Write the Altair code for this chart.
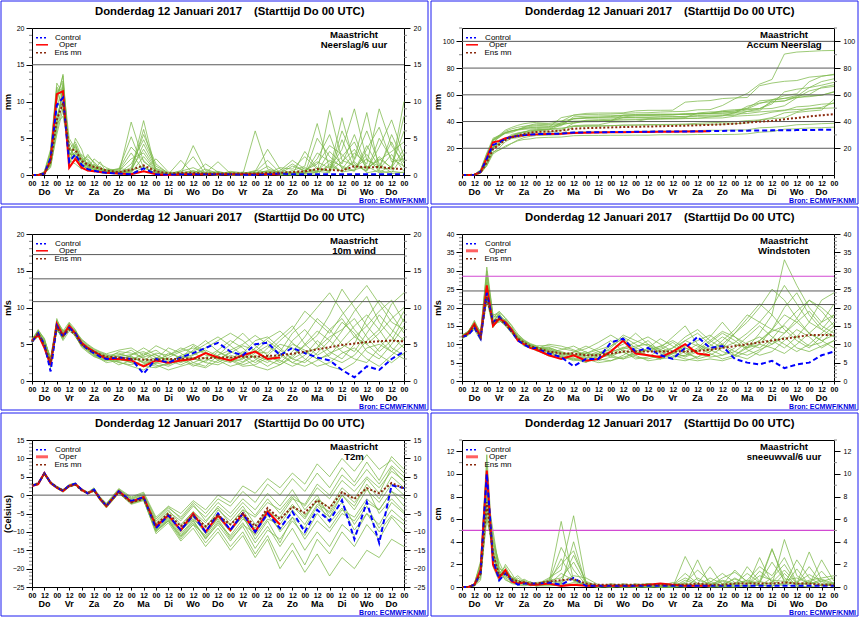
import altair as alt
import pandas as pd

HOURS = [0, 6, 12, 18, 24, 30, 36, 42, 48, 54, 60, 66, 72, 84, 96, 108, 120, 132, 144, 156,
         168, 180, 192, 204, 216, 228, 240, 252, 264, 276, 288, 300, 312, 324, 336, 348, 360]
DAYS = ["Do", "Vr", "Za", "Zo", "Ma", "Di", "Wo", "Do", "Vr", "Za", "Zo", "Ma", "Di", "Wo", "Do"]
DAY_HOURS = [12, 36, 60, 84, 108, 132, 156, 180, 204, 228, 252, 276, 300, 324, 348]
X_TICKS = [0, 12, 24, 36, 48, 60, 72, 84, 96, 108, 120, 132, 144, 156, 168, 180, 192, 204, 216,
           228, 240, 252, 264, 276, 288, 300, 312, 324, 336, 348, 360]

TITLE_A = "Donderdag 12 Januari 2017"
TITLE_B = "(Starttijd Do 00 UTC)"
LOCATION = "Maastricht"
SOURCE = "Bron: ECMWF/KNMI"

# ---------------- Neerslag / 6 uur (mm) ----------------
PR_CONTROL = [0, 0, 0.2, 2.3, 9.5, 10.5, 1.8, 2.8, 1.4, 0.8, 0.6, 0.4, 0.3, 0.2, 0.1, 0.9, 0.1, 0.05, 0.1,
              0.1, 0.1, 0.1, 0.1, 0.05, 0.05, 0.1, 0.2, 0.1, 0.1, 0.1, 0.1, 0.1, 0.1, 0.1, 0.1, 0.1, 0.1]
PR_OPER = [0, 0, 0.2, 2.0, 11.0, 11.4, 1.0, 2.2, 1.0, 0.6, 0.5, 0.4, 0.3, 0.2, 0.1, 0.5, 0.1, 0.0,
           0.1, 0.1, 0.1, 0.1, 0.1, 0.1, 0.1, 0.1, 0.1]
PR_MEAN = [0, 0, 0.2, 1.8, 7.5, 9.8, 3.5, 3.4, 1.9, 1.4, 1.1, 0.9, 0.6, 0.4, 0.7, 1.3, 0.5, 0.2, 0.3,
           0.3, 0.2, 0.2, 0.2, 0.2, 0.2, 0.3, 0.3, 0.4, 0.5, 0.8, 0.7, 0.6, 1.2, 1.0, 1.1, 0.9, 0.8]
PR_ENS = [
    [0, 0, 0.3, 2.8, 10.5, 13.5, 2.5, 4.0, 2.2, 1.5, 1.0, 0.8, 0.5, 0.3, 0.6, 7.4, 0.4, 0.1, 0.2, 0.3, 0.1, 0.0, 0.2, 0.1, 0.3, 0.5, 0.2, 0.1, 0.6, 1.8, 0.9, 3.5, 9.0, 2.0, 1.2, 4.5, 1.0],
    [0, 0, 0.1, 1.5, 6.5, 12.0, 3.8, 2.5, 1.5, 2.8, 1.6, 0.6, 0.4, 0.8, 5.2, 1.0, 0.3, 0.0, 0.1, 4.0, 0.6, 0.2, 0.1, 0.0, 0.2, 0.1, 0.0, 0.3, 0.2, 5.0, 2.5, 1.0, 0.5, 3.5, 6.5, 1.8, 2.2],
    [0, 0, 0.4, 3.2, 11.8, 8.5, 4.5, 3.2, 1.2, 0.9, 2.2, 1.5, 1.0, 0.2, 1.5, 4.8, 1.2, 0.3, 0.0, 0.1, 1.5, 0.4, 0.0, 0.1, 6.0, 0.8, 0.4, 1.5, 0.5, 0.3, 8.8, 2.0, 1.3, 0.6, 2.5, 0.9, 10.0],
    [0, 0, 0.2, 2.0, 8.0, 10.5, 1.2, 5.0, 3.5, 1.0, 0.5, 1.8, 0.3, 0.1, 0.3, 2.5, 0.5, 0.1, 2.0, 0.2, 0.3, 1.8, 0.2, 0.4, 0.1, 0.0, 0.1, 0.1, 3.2, 1.0, 0.4, 6.0, 2.2, 8.5, 0.8, 2.8, 0.5],
    [0, 0, 0.1, 1.2, 5.5, 9.0, 3.0, 2.0, 2.8, 2.0, 1.0, 0.4, 0.8, 0.4, 0.2, 1.0, 0.2, 0.0, 0.1, 0.0, 0.1, 0.0, 0.3, 0.0, 0.0, 0.2, 0.0, 0.0, 0.1, 0.4, 1.2, 0.5, 1.8, 0.3, 0.6, 0.2, 0.4],
    [0, 0, 0.5, 3.5, 12.5, 11.0, 2.0, 1.5, 0.8, 1.8, 0.6, 0.3, 0.2, 0.5, 3.0, 0.6, 2.2, 0.4, 0.3, 0.1, 0.0, 0.3, 0.1, 0.2, 0.5, 3.5, 0.8, 0.2, 0.4, 2.2, 5.5, 0.8, 3.0, 1.5, 9.0, 4.0, 1.6],
    [0, 0, 0.2, 2.5, 9.0, 12.5, 5.0, 3.5, 1.8, 1.2, 0.8, 0.5, 0.6, 0.3, 0.8, 3.5, 0.8, 0.2, 0.5, 1.0, 0.2, 0.1, 0.0, 0.1, 0.3, 0.1, 0.6, 2.0, 0.8, 0.5, 0.3, 4.8, 0.9, 2.8, 0.4, 1.2, 6.0],
    [0, 0, 0.1, 1.8, 7.0, 8.0, 3.5, 4.5, 2.5, 0.5, 1.3, 1.0, 0.5, 0.6, 0.2, 0.5, 0.3, 0.0, 0.0, 0.3, 0.0, 0.2, 0.0, 0.0, 0.1, 0.4, 0.2, 0.0, 0.2, 0.1, 1.5, 0.4, 0.7, 1.2, 0.3, 0.5, 0.3],
    [0, 0, 0.3, 2.2, 10.0, 13.7, 2.8, 2.8, 1.0, 1.4, 0.4, 0.7, 0.2, 0.2, 7.2, 1.8, 0.6, 0.1, 0.2, 0.5, 0.4, 0.1, 0.5, 0.3, 0.2, 1.2, 0.1, 0.6, 1.2, 7.0, 0.8, 2.5, 4.5, 0.7, 3.8, 7.5, 2.5],
    [0, 0, 0.2, 1.0, 6.0, 10.0, 1.5, 3.0, 2.0, 2.5, 1.8, 0.9, 0.7, 0.2, 0.4, 6.2, 0.4, 0.1, 0.1, 0.2, 0.2, 0.0, 0.1, 0.1, 0.1, 0.0, 0.3, 0.1, 0.3, 0.6, 2.0, 1.2, 0.6, 4.0, 1.0, 0.8, 8.0],
    [0, 0, 0.2, 2.6, 11.0, 12.8, 3.2, 3.8, 2.0, 1.6, 1.2, 0.6, 0.4, 0.5, 2.2, 3.0, 0.6, 0.2, 0.1, 0.2, 0.3, 0.1, 0.1, 0.2, 0.4, 2.0, 0.3, 0.2, 1.0, 0.4, 3.2, 1.5, 5.5, 1.0, 2.0, 3.2, 4.5],
    [0, 0, 0.3, 1.6, 7.5, 11.5, 4.0, 2.2, 1.6, 1.1, 0.7, 1.2, 0.3, 0.3, 1.0, 5.5, 1.5, 0.2, 0.4, 0.2, 0.2, 0.5, 0.1, 0.0, 0.3, 0.2, 1.0, 0.8, 2.5, 0.8, 0.6, 7.8, 1.5, 0.5, 5.0, 2.2, 1.2],
    [0, 0, 0.1, 2.4, 9.5, 9.5, 2.2, 3.2, 2.6, 1.3, 0.9, 0.5, 0.8, 0.7, 3.8, 2.0, 0.3, 0.1, 0.6, 2.5, 0.1, 0.0, 0.4, 0.1, 0.0, 0.3, 0.1, 0.4, 0.2, 3.0, 1.8, 0.4, 2.0, 6.0, 1.5, 0.3, 2.8],
    [0, 0, 0.4, 3.0, 12.0, 10.8, 3.0, 2.6, 1.4, 0.8, 1.5, 0.8, 0.6, 0.4, 0.5, 4.2, 0.9, 0.3, 0.2, 0.1, 0.8, 0.2, 0.3, 0.2, 0.6, 0.4, 0.2, 1.2, 0.6, 1.5, 4.0, 2.8, 1.0, 2.2, 0.7, 5.5, 1.8],
    [0, 0, 0.2, 1.4, 6.8, 12.2, 2.6, 4.2, 1.7, 2.2, 1.1, 0.7, 0.5, 0.9, 0.6, 1.2, 0.2, 0.0, 0.3, 0.6, 0.0, 0.4, 0.0, 0.1, 0.2, 0.6, 0.4, 0.3, 0.4, 0.9, 0.5, 1.8, 3.5, 0.9, 2.2, 1.0, 3.5],
]

# ---------------- Accumulated precipitation (mm) ----------------
AC_CONTROL = [0, 0, 0.2, 2.5, 12, 22.5, 24.3, 27.1, 28.5, 29.3, 29.9, 30.3, 30.6, 30.8, 30.9, 31.8, 31.9, 32.0, 32.1,
              32.2, 32.3, 32.4, 32.5, 32.5, 32.6, 32.7, 32.9, 33.0, 33.1, 33.2, 33.3, 33.4, 33.5, 33.6, 33.7, 33.8, 33.9]
AC_OPER = [0, 0, 0.2, 2.2, 13, 24.5, 25.5, 27.5, 28.5, 29.2, 29.7, 30.1, 30.4, 30.7, 30.9, 31.5, 31.7, 31.8,
           31.9, 32.0, 32.1, 32.2, 32.3, 32.4, 32.5, 32.6, 32.7]
AC_MEAN = [0, 0, 0.2, 2.0, 9.5, 19.3, 22.8, 26.2, 28.1, 29.5, 30.7, 31.6, 32.2, 32.6, 33.3, 34.6, 35.1, 35.3, 35.6,
           35.9, 36.1, 36.3, 36.5, 36.7, 36.9, 37.2, 37.5, 37.9, 38.4, 39.2, 39.9, 40.5, 41.7, 42.7, 43.8, 44.7, 45.5]
AC_ENS = [
    [0, 0, 0.3, 3.0, 13.0, 26.0, 28.0, 31.5, 33.0, 34.0, 35.0, 35.5, 36.0, 36.3, 36.8, 43.5, 44.0, 44.2, 44.4, 44.7, 44.8, 44.9, 45.1, 45.2, 45.5, 46.0, 46.2, 46.4, 47.0, 48.8, 49.7, 53.2, 62.2, 64.2, 65.4, 69.9, 72.0],
    [0, 0, 0.1, 1.6, 8.1, 20.1, 23.9, 26.4, 27.9, 30.7, 32.3, 32.9, 33.3, 34.1, 39.3, 40.3, 40.6, 40.6, 40.7, 44.7, 45.3, 45.5, 45.6, 45.6, 45.8, 45.9, 45.9, 46.2, 46.4, 51.4, 53.9, 54.9, 55.4, 58.9, 65.4, 67.2, 69.4],
    [0, 0, 0.4, 3.6, 15.4, 23.9, 28.4, 31.6, 32.8, 33.7, 35.9, 37.4, 38.4, 38.6, 40.1, 44.9, 46.1, 46.4, 46.4, 46.5, 48.0, 48.4, 48.4, 48.5, 54.5, 55.3, 55.7, 57.2, 57.7, 58.0, 66.8, 68.8, 70.1, 70.7, 73.2, 74.1, 75.0],
    [0, 0, 0.2, 2.2, 10.2, 20.7, 21.9, 26.9, 30.4, 31.4, 31.9, 33.7, 34.0, 34.1, 34.4, 36.9, 37.4, 37.5, 39.5, 39.7, 40.0, 41.8, 42.0, 42.4, 42.5, 42.5, 42.6, 42.7, 44.0, 44.5, 45.0, 47.0, 48.2, 51.0, 51.6, 53.0, 53.5],
    [0, 0, 0.1, 1.3, 6.8, 15.8, 18.8, 20.8, 23.6, 25.6, 26.6, 27.0, 27.8, 28.2, 28.4, 29.4, 29.6, 29.6, 29.7, 29.7, 29.8, 29.8, 30.1, 30.1, 30.1, 30.3, 30.3, 30.3, 30.4, 30.8, 32.0, 32.5, 34.3, 34.6, 35.2, 35.4, 35.8],
    [0, 0, 0.5, 4.0, 16.5, 27.5, 29.5, 31.0, 31.8, 33.6, 34.2, 34.5, 34.7, 35.2, 38.2, 38.8, 41.0, 41.4, 41.7, 41.8, 41.8, 42.1, 42.2, 42.4, 42.9, 46.4, 47.2, 47.4, 47.8, 50.0, 55.5, 56.3, 59.3, 60.8, 69.8, 73.8, 75.4],
    [0, 0, 0.2, 2.7, 11.7, 24.2, 29.2, 32.7, 34.5, 35.7, 36.5, 37.0, 37.6, 37.9, 38.7, 42.2, 43.0, 43.2, 43.7, 44.7, 44.9, 45.0, 45.0, 45.1, 45.4, 45.5, 46.1, 48.1, 48.9, 49.4, 49.7, 54.5, 55.4, 58.2, 58.6, 59.8, 62.0],
    [0, 0, 0.1, 1.9, 8.9, 16.9, 20.4, 24.9, 27.4, 27.9, 29.2, 30.2, 30.7, 31.3, 31.5, 32.0, 32.3, 32.3, 32.3, 32.6, 32.6, 32.8, 32.8, 32.8, 32.9, 33.3, 33.5, 33.5, 33.7, 33.8, 35.3, 35.7, 36.4, 37.6, 37.9, 38.4, 38.7],
    [0, 0, 0.3, 2.5, 12.5, 26.2, 29.0, 31.8, 32.8, 34.2, 34.6, 35.3, 35.5, 35.7, 42.9, 44.7, 45.3, 45.4, 45.6, 46.1, 46.5, 46.6, 47.1, 47.4, 47.6, 48.8, 48.9, 52.0, 57.0, 61.0, 68.0, 71.5, 90.5, 92.0, 92.5, 93.0, 93.2],
    [0, 0, 0.2, 1.2, 7.2, 17.2, 18.7, 21.7, 23.7, 26.2, 28.0, 28.9, 29.6, 29.8, 30.2, 36.4, 36.8, 36.9, 37.0, 37.2, 37.4, 37.4, 37.5, 37.6, 37.7, 37.7, 38.0, 38.1, 38.4, 39.0, 41.0, 42.2, 42.8, 46.8, 47.8, 48.6, 56.6],
    [0, 0, 0.2, 2.8, 13.8, 26.6, 29.8, 33.6, 35.6, 37.2, 38.4, 39.0, 39.4, 39.9, 40.5, 42.0, 42.4, 42.6, 42.7, 42.9, 43.2, 43.3, 43.4, 43.6, 43.9, 44.5, 44.8, 45.0, 45.6, 46.0, 47.2, 47.9, 48.6, 49.0, 49.5, 49.8, 50.2],
    [0, 0, 0.3, 1.9, 9.4, 20.9, 24.9, 27.1, 28.7, 29.8, 30.5, 31.7, 32.0, 32.3, 33.3, 38.8, 40.3, 40.5, 40.9, 41.1, 41.3, 41.8, 41.9, 41.9, 42.2, 42.4, 43.4, 44.2, 46.7, 47.5, 48.1, 55.9, 57.4, 57.9, 62.9, 65.1, 66.3],
    [0, 0, 0.1, 2.5, 12.0, 21.5, 23.7, 26.9, 29.5, 30.8, 31.7, 32.2, 33.0, 33.7, 37.5, 39.5, 39.8, 39.9, 40.5, 43.0, 43.1, 43.1, 43.5, 43.6, 43.6, 43.9, 44.0, 44.4, 44.6, 47.6, 49.4, 49.8, 51.8, 57.8, 59.3, 59.6, 62.4],
    [0, 0, 0.4, 3.4, 15.4, 26.2, 29.2, 31.8, 33.2, 34.0, 35.5, 36.3, 36.9, 37.3, 37.8, 42.0, 42.9, 43.2, 43.4, 43.5, 44.3, 44.5, 44.8, 45.0, 45.6, 46.0, 46.2, 47.4, 48.0, 49.5, 53.5, 56.3, 57.3, 59.5, 60.2, 65.7, 67.5],
    [0, 0, 0.2, 1.6, 8.4, 20.6, 23.2, 27.4, 29.1, 31.3, 32.4, 33.1, 33.6, 34.5, 35.1, 36.3, 36.5, 36.5, 36.8, 37.4, 37.4, 37.8, 37.8, 37.9, 38.1, 38.7, 39.1, 39.4, 39.8, 40.7, 41.2, 43.0, 46.5, 47.4, 49.6, 50.6, 54.1],
]

# ---------------- 10m wind (m/s) ----------------
WI_CONTROL = [5.3, 6.5, 5.0, 1.3, 7.5, 6.0, 7.2, 6.5, 5.0, 4.3, 3.8, 3.3, 3.0, 3.2, 3.0, 1.0, 3.0, 2.5, 3.2,
              3.8, 4.5, 5.2, 4.0, 3.5, 5.0, 5.2, 3.5, 4.5, 3.8, 3.2, 2.8, 1.5, 0.5, 2.0, 1.5, 3.0, 4.0]
WI_OPER = [5.5, 6.3, 4.5, 2.2, 7.8, 6.2, 7.5, 6.5, 5.2, 4.5, 4.0, 3.5, 3.0, 3.0, 2.8, 2.0, 2.8, 2.5, 2.8,
           3.0, 3.8, 3.2, 2.8, 3.5, 4.0, 3.0, 3.2]
WI_MEAN = [5.4, 6.5, 4.8, 2.5, 7.3, 6.2, 7.0, 6.3, 5.0, 4.4, 4.0, 3.6, 3.3, 3.2, 3.0, 2.9, 2.9, 3.0, 3.0,
           3.1, 3.1, 3.2, 3.2, 3.3, 3.3, 3.4, 3.5, 3.7, 4.0, 4.3, 4.6, 4.9, 5.1, 5.3, 5.4, 5.5, 5.4]
WI_ENS = [
    [5.6, 6.8, 5.2, 2.5, 8.0, 6.5, 7.8, 6.8, 5.5, 4.8, 4.2, 3.8, 3.5, 3.0, 2.5, 2.2, 3.0, 4.5, 3.8, 2.5, 2.0, 3.5, 5.0, 6.5, 4.8, 3.5, 2.5, 4.0, 6.0, 8.5, 7.0, 5.0, 4.0, 6.5, 9.0, 7.0, 5.5],
    [5.2, 6.2, 4.5, 1.8, 7.0, 5.8, 7.2, 6.0, 4.8, 4.2, 3.6, 3.2, 3.0, 4.0, 3.8, 3.2, 2.5, 2.0, 2.8, 4.2, 5.5, 4.0, 3.0, 2.2, 2.8, 4.5, 6.0, 7.5, 5.0, 3.5, 4.5, 6.8, 9.5, 11.5, 8.0, 6.0, 4.5],
    [5.4, 6.6, 5.5, 3.0, 7.5, 6.8, 8.0, 7.0, 5.2, 4.0, 3.4, 3.0, 2.5, 2.8, 3.5, 4.5, 3.5, 2.8, 2.2, 3.0, 3.8, 3.0, 2.5, 3.8, 5.5, 6.0, 4.5, 3.0, 2.5, 3.8, 5.5, 8.0, 6.5, 4.0, 3.0, 5.0, 7.5],
    [5.5, 6.4, 4.8, 2.2, 8.5, 6.2, 7.5, 6.5, 5.0, 4.5, 4.0, 3.6, 3.2, 2.5, 2.2, 2.8, 3.8, 3.5, 4.2, 5.0, 4.0, 2.8, 2.0, 2.5, 3.5, 2.8, 2.2, 3.5, 4.8, 6.2, 9.0, 12.5, 10.0, 7.5, 5.5, 4.0, 3.0],
    [5.3, 6.9, 5.8, 2.8, 7.2, 5.5, 6.8, 6.2, 4.6, 3.9, 3.3, 3.0, 2.7, 3.5, 4.2, 3.0, 2.2, 1.5, 2.0, 2.5, 3.2, 4.2, 5.5, 4.5, 3.0, 2.0, 3.0, 5.5, 7.0, 5.0, 3.2, 2.5, 3.5, 5.5, 7.0, 10.5, 12.0],
    [5.7, 6.3, 5.0, 2.0, 8.2, 6.9, 7.0, 6.6, 5.4, 4.6, 3.8, 3.4, 3.3, 2.7, 3.0, 3.5, 4.8, 4.0, 3.0, 2.0, 2.8, 3.5, 4.2, 5.0, 6.2, 5.0, 3.8, 2.5, 3.5, 5.5, 4.0, 3.0, 5.0, 8.5, 11.0, 9.0, 6.5],
    [5.1, 6.7, 4.6, 2.6, 6.8, 6.0, 7.6, 6.4, 4.9, 4.3, 3.5, 3.1, 2.8, 3.0, 2.5, 2.0, 1.8, 2.5, 3.5, 4.0, 5.0, 6.0, 4.8, 3.5, 2.5, 3.5, 5.0, 4.5, 3.0, 2.0, 2.5, 3.8, 4.5, 3.0, 2.0, 3.5, 5.0],
    [5.5, 6.5, 5.4, 3.2, 7.8, 6.4, 7.4, 6.9, 5.3, 4.7, 4.1, 3.7, 3.4, 3.8, 3.2, 2.5, 3.2, 3.0, 2.5, 3.2, 2.5, 2.2, 3.0, 4.0, 3.2, 2.5, 4.0, 6.5, 8.0, 10.0, 12.0, 9.5, 7.0, 5.0, 6.5, 8.5, 10.0],
    [5.4, 6.0, 4.9, 2.4, 7.4, 5.9, 7.9, 6.3, 5.1, 4.4, 3.7, 3.3, 3.1, 2.2, 2.8, 3.8, 2.8, 3.5, 4.5, 3.8, 3.0, 2.5, 3.5, 3.0, 4.0, 5.5, 4.2, 3.0, 4.0, 3.0, 2.0, 1.5, 2.5, 4.5, 5.0, 4.0, 6.0],
    [5.6, 7.0, 5.6, 2.9, 8.0, 6.6, 7.1, 6.7, 5.6, 4.9, 4.3, 3.9, 3.6, 3.3, 3.6, 4.0, 3.2, 2.2, 3.0, 4.8, 3.5, 3.2, 2.8, 2.0, 2.2, 3.2, 2.8, 2.0, 2.8, 4.5, 6.0, 7.0, 8.5, 6.0, 4.0, 5.5, 8.5],
    [5.4, 6.6, 5.1, 2.7, 7.7, 6.3, 7.3, 6.6, 5.2, 4.5, 3.9, 3.5, 3.2, 3.6, 3.3, 2.6, 2.4, 3.2, 4.0, 4.5, 3.8, 3.0, 3.8, 4.8, 4.2, 3.0, 3.5, 5.0, 4.2, 3.0, 3.5, 5.5, 7.5, 9.0, 7.0, 4.5, 3.5],
    [5.2, 6.4, 4.7, 2.1, 7.1, 5.7, 7.7, 6.1, 4.7, 4.1, 3.6, 3.2, 2.9, 2.6, 2.0, 1.5, 2.5, 3.8, 3.2, 2.2, 1.8, 2.8, 4.0, 3.2, 2.0, 1.5, 2.2, 3.2, 5.0, 6.8, 5.5, 4.0, 3.0, 2.5, 4.5, 6.5, 9.5],
    [5.8, 6.8, 5.7, 3.1, 8.3, 6.7, 7.2, 6.8, 5.7, 5.0, 4.4, 4.0, 3.7, 4.2, 4.5, 3.5, 4.2, 3.0, 2.6, 3.5, 4.5, 5.5, 6.5, 5.5, 4.0, 3.8, 5.5, 7.0, 9.5, 8.0, 6.5, 9.0, 11.0, 13.0, 10.5, 8.0, 7.0],
    [5.3, 6.1, 5.3, 2.3, 7.6, 6.1, 7.0, 6.4, 5.0, 4.3, 3.8, 3.4, 3.1, 3.1, 2.7, 3.3, 3.6, 2.6, 3.4, 3.0, 2.6, 4.0, 3.2, 2.6, 3.8, 4.8, 3.5, 2.5, 2.0, 2.8, 3.8, 4.5, 6.0, 5.0, 3.5, 2.5, 3.8],
    [5.5, 6.7, 5.3, 2.6, 7.9, 6.5, 7.6, 6.6, 5.3, 4.6, 4.0, 3.6, 3.3, 2.9, 3.4, 2.4, 2.0, 2.3, 3.0, 3.6, 4.2, 3.4, 2.6, 3.0, 4.5, 5.8, 6.8, 5.2, 3.8, 4.5, 7.0, 8.5, 6.0, 7.5, 9.5, 11.0, 8.0],
]

# ---------------- Windstoten (m/s) ----------------
GU_CONTROL = [12, 12.5, 14.5, 11.5, 24, 16, 17.5, 15.5, 13.5, 11, 10, 9, 9, 7.5, 6.5, 4, 6, 6, 10.5,
              11.5, 8, 9, 7, 6, 9, 12, 9, 9.5, 6, 5, 4.5, 5.5, 3.5, 4.5, 5, 7, 8]
GU_OPER = [12, 13, 15.5, 12, 26, 15, 17, 16, 14, 11, 10, 9, 8.5, 7, 6, 7, 5.5, 6, 8, 11, 7.5, 7, 6.5,
           8, 10, 7.5, 7]
GU_MEAN = [12, 13, 15, 12, 23, 16, 17, 15.5, 13.5, 11.5, 10.5, 9.5, 9, 8, 7.5, 7.5, 7, 7, 7.5, 8, 8,
           8, 8, 8, 8, 8.2, 8.5, 9, 9.5, 10, 10.5, 11, 11.5, 12, 12.5, 12.5, 12.5]
GU_ENS = [
    [12, 13.5, 16, 12.5, 28, 17, 19, 17, 15, 12, 11, 10, 9.5, 8, 6.5, 6, 5, 7, 9, 12, 10, 8, 9, 12, 15, 10, 8, 11, 14, 18, 16, 14, 13, 17, 22, 19, 15],
    [11.5, 12.5, 14.5, 11.5, 24, 15, 16.5, 15, 13, 11, 9.5, 9, 8.5, 9, 8, 7, 8, 6, 5.5, 7, 9, 11, 8, 6.5, 7, 9, 12, 16, 12, 9, 10, 14, 20, 24, 18, 14, 12],
    [12.5, 13, 15.5, 13, 31, 18, 18, 16.5, 14.5, 12, 10.5, 9.5, 9, 7, 6, 8, 9.5, 8, 6.5, 6, 8, 7, 6, 8, 11, 13, 10, 8, 7, 9, 13, 18, 33, 26, 20, 16, 21],
    [12, 12.8, 15, 12, 22, 14.5, 17, 16, 13.5, 11.5, 10, 9, 8.8, 10, 9.5, 8.5, 7, 5.5, 6.5, 8.5, 7, 5.5, 6, 7.5, 9, 7.5, 6.5, 7, 9, 12, 15, 12, 10, 8, 10, 13, 16],
    [11.8, 13.2, 16.5, 12.8, 26, 16, 18.5, 15.5, 14, 11, 9.8, 9.2, 8.2, 7.5, 6.8, 5.5, 6, 7.5, 8.5, 10, 13, 10, 7.5, 6, 5.5, 6.5, 9, 10, 7, 6, 8, 11, 9, 12, 16, 22, 24],
    [12.2, 12.6, 14, 11, 25, 15.5, 16, 16.8, 14.2, 12.5, 11, 10, 9.2, 8.5, 7, 6.5, 7.5, 9, 11, 8, 6, 6.5, 8.5, 10.5, 8, 6, 7, 9, 13, 16, 20, 25, 22, 17, 13, 11, 9],
    [12.4, 13.6, 15.8, 13.5, 29, 17.5, 17.5, 15.2, 13.2, 11.2, 10.2, 9.5, 8.6, 7.8, 8.5, 9.5, 7.8, 6.5, 7, 9, 10.5, 12, 10, 8, 6.5, 8, 10.5, 13, 11, 8.5, 7, 8, 11, 14, 12, 9, 11],
    [11.6, 12.4, 14.8, 12.2, 23, 15, 17.2, 16.2, 13.8, 11.8, 10.4, 9.4, 8.4, 6.8, 6.2, 7, 6, 5, 5.5, 6.5, 7.5, 8.5, 9.5, 7, 6, 5.5, 6, 5.5, 6.5, 8, 10, 9, 7.5, 10, 13, 16, 18],
    [12.1, 13.1, 15.2, 12.6, 27, 16.5, 18, 15.8, 14.4, 12.2, 10.8, 9.8, 9.4, 8.2, 7.2, 7.8, 8.8, 10.5, 12.5, 10.5, 8.5, 7, 6.5, 7.5, 9.5, 11, 12.5, 10, 8, 10.5, 12, 10, 13, 16, 19, 15, 13],
    [11.9, 12.9, 15.6, 12.4, 24.5, 15.8, 16.8, 16.4, 13.6, 11.4, 10.6, 9.6, 9, 9.2, 7.8, 6.8, 6.4, 6.2, 7.2, 7.8, 6.5, 6, 7, 9, 11, 9.5, 7.5, 6, 7, 9.5, 11, 13.5, 15, 12, 9.5, 10.5, 14],
    [12.3, 13.3, 15.4, 12.7, 26.5, 16.2, 17.8, 16, 14, 11.8, 10.4, 9.6, 9, 8.6, 7.6, 7.2, 7.5, 8.5, 9.5, 11.5, 9, 8, 9.5, 11, 9, 8, 9.5, 12, 10, 9, 11, 14, 18, 16, 13, 11, 12.5],
    [11.7, 12.7, 14.6, 11.8, 23.5, 15.2, 16.6, 15.6, 13.4, 11.6, 10.3, 9.3, 8.7, 8, 6.4, 5.8, 6.8, 8, 7, 6, 7, 9, 11.5, 9.5, 7.5, 6.5, 8, 10, 13, 17, 21, 18, 14, 11, 9, 12, 15],
    [12.6, 13.4, 16.2, 13.2, 30, 17.8, 18.8, 17.2, 15.2, 12.8, 11.2, 10.2, 9.6, 9.6, 8.8, 8.2, 7, 7.5, 9.5, 12.5, 11, 9.5, 8, 9, 12, 14, 11, 9, 10.5, 13, 16, 20, 26, 21, 16, 14, 18],
    [11.8, 12.6, 14.4, 11.6, 22.5, 14.8, 16.4, 15.4, 13.2, 11.2, 9.9, 9.1, 8.6, 7.2, 6.6, 6.2, 5.2, 6, 7.8, 9.2, 8, 7, 6, 6.5, 8, 10, 8.5, 7, 8, 7, 8.5, 10, 12, 9, 8, 9.5, 11],
    [12.2, 13, 15.4, 12.3, 25.5, 15.6, 17.4, 16.2, 13.9, 11.6, 10.7, 9.7, 9.1, 8.9, 7.4, 6.9, 6.9, 7.2, 8, 8.8, 9.5, 10, 8.5, 7.5, 6.8, 8.5, 11, 13.5, 12, 10, 9, 11.5, 15.5, 19, 22, 20, 17],
]

# ---------------- T2m (Celsius) ----------------
T_CONTROL = [2.6, 3.1, 6.0, 3.4, 2.1, 1.2, 2.6, 3.1, 1.5, 0.5, 1.5, -1.0, -2.9, 1.0, -1.6, -0.6, -9.0, -5.5,
             -9.5, -5.5, -10, -5, -9.5, -5, -10, -5, -9, -4.5, -10, -4, -7, -1.4, -12, -1.9, -13, 2.7, 1.9]
T_OPER = [2.5, 3.0, 6.0, 3.3, 2.0, 1.1, 2.5, 3.0, 1.5, 0.5, 1.4, -1.1, -3.0, 1.1, -1.8, -0.5, -8.5, -5.5,
          -9.5, -5.0, -10.0, -5.5, -9.5, -5.0, -10.0, -4.5, -8.0]
T_MEAN = [2.7, 3.2, 5.8, 3.5, 2.2, 1.3, 2.4, 2.8, 1.3, 0.6, 1.2, -1.0, -2.8, 0.8, -2.0, -1.0, -8.0, -5.0,
          -8.5, -5.5, -8.5, -5.5, -8.0, -5.0, -8.5, -3.5, -6.5, -3.2, -4.8, -1.4, -3.5, 0.8, -1.0, 1.9, 0.5, 3.3, 1.8]
T_ENS = [
    [2.6, 3.2, 6.2, 3.5, 2.3, 1.3, 2.8, 3.2, 1.6, 0.6, 1.8, -0.8, -2.5, 1.5, -1.0, 0.2, -7.0, -3.5, -6.0, -2.0, -5.0, -1.0, -3.0, 1.0, -2.0, 3.0, 0.0, 4.5, 1.0, 6.0, 2.0, 7.5, 3.5, 9.0, 4.0, 10.5, 7.0],
    [2.4, 2.8, 5.6, 3.0, 1.8, 0.8, 2.2, 2.7, 1.2, 0.3, 1.0, -1.5, -3.5, 0.5, -2.5, -1.5, -10, -7, -12, -8, -13, -9, -14, -10, -16, -11, -18, -13, -19, -12, -16, -10, -14, -8, -12, -6, -10],
    [2.7, 3.1, 6.0, 3.4, 2.1, 1.2, 2.6, 3.1, 1.5, 0.5, 1.5, -1.0, -2.8, 1.0, -1.6, -0.3, -8.5, -5.5, -9.5, -6.5, -10, -6, -8, -4, -6, -2, -4, 0, -3, 2, -1, 4, 1, 5, 2, 6.5, 4],
    [2.5, 3.0, 5.9, 3.2, 2.0, 1.0, 2.4, 2.9, 1.4, 0.4, 1.3, -1.2, -3.2, 0.8, -2.0, -1.0, -9.5, -6.5, -11, -7, -12, -7.5, -11, -6.5, -9, -4, -7, -2.5, -6, -1.5, -5, 0, -4, 1.5, -2, 3, 0],
    [2.8, 3.3, 6.3, 3.6, 2.4, 1.5, 2.9, 3.3, 1.8, 0.8, 2.0, -0.5, -2.2, 1.8, -0.5, 0.8, -6.0, -3.0, -5.0, -1.5, -4.0, 0.0, -2.0, 2.5, 0.5, 4.5, 2.0, 6.0, 3.0, 8.5, 5.0, 10.0, 6.5, 11.0, 7.0, 9.5, 6.0],
    [2.6, 2.9, 5.7, 3.1, 1.9, 0.9, 2.3, 2.8, 1.3, 0.4, 1.2, -1.4, -3.3, 0.6, -2.3, -1.2, -10.5, -7.5, -12.5, -9, -14, -10, -15, -11, -17, -12, -20, -15, -21, -16, -22, -17, -20, -15, -17, -12, -14],
    [2.5, 3.1, 6.1, 3.3, 2.2, 1.1, 2.5, 3.0, 1.4, 0.5, 1.4, -1.1, -3.0, 1.2, -1.5, -0.5, -8.0, -4.5, -7.0, -3.0, -6.0, -2.0, -5.0, -1.0, -4.0, 0.5, -3.0, 1.5, -4.0, 0.0, -6.0, -2.0, -8.0, -3.0, -9.0, -4.0, -7.0],
    [2.7, 3.0, 5.8, 3.4, 2.0, 1.2, 2.6, 3.0, 1.5, 0.6, 1.6, -0.9, -2.7, 1.3, -1.8, -0.8, -9.0, -6.0, -10, -5.5, -9, -4, -7, -3, -8, -4, -10, -6, -12, -7, -10, -5, -7, -2, -4, 1, -1],
    [2.4, 2.9, 5.9, 3.2, 2.1, 1.0, 2.4, 2.9, 1.3, 0.5, 1.3, -1.3, -3.1, 0.9, -2.2, -1.3, -9.8, -7.0, -11.5, -8.0, -11.0, -6.0, -10.0, -5.5, -12.0, -7.0, -13.0, -6.0, -9.0, -3.0, -6.0, 0.0, -3.0, 3.0, -1.0, 5.0, 2.0],
    [2.6, 3.2, 6.0, 3.5, 2.3, 1.2, 2.7, 3.1, 1.5, 0.6, 1.5, -0.9, -2.6, 1.4, -1.2, 0.0, -7.5, -4.0, -8.0, -4.5, -8.5, -5.0, -9.5, -6.0, -11.0, -6.5, -8.0, -3.0, -6.5, -1.0, -3.5, 2.0, -1.0, 4.5, 0.5, 7.5, 3.5],
    [2.6, 3.0, 5.9, 3.3, 2.1, 1.1, 2.5, 3.0, 1.4, 0.5, 1.4, -1.1, -2.9, 1.1, -1.7, -0.7, -8.8, -5.8, -9.8, -6.0, -10.5, -6.5, -11.5, -7.5, -13.0, -8.5, -14.0, -9.0, -15.0, -10.0, -14.0, -8.0, -11.0, -5.0, -8.0, -2.0, -5.0],
    [2.7, 3.2, 6.1, 3.5, 2.2, 1.3, 2.7, 3.1, 1.6, 0.7, 1.7, -0.7, -2.4, 1.6, -0.8, 0.5, -6.5, -3.2, -6.5, -2.5, -7.0, -3.5, -8.0, -4.0, -9.5, -5.0, -6.0, -1.0, -2.5, 3.0, 0.0, 5.5, 2.5, 7.0, 3.0, 8.0, 5.0],
    [2.5, 2.9, 5.8, 3.1, 1.9, 1.0, 2.4, 2.9, 1.3, 0.4, 1.2, -1.3, -3.2, 0.7, -2.1, -1.1, -9.6, -6.8, -11.2, -7.5, -11.5, -7.0, -12.0, -8.5, -14.5, -9.5, -12.0, -7.0, -11.0, -5.0, -9.0, -4.0, -6.0, -1.0, -4.0, 1.0, -3.0],
    [2.6, 3.1, 6.0, 3.4, 2.2, 1.2, 2.6, 3.1, 1.5, 0.6, 1.5, -1.0, -2.8, 1.0, -1.6, -0.4, -8.2, -5.0, -8.5, -4.5, -7.5, -3.0, -6.0, -2.0, -5.5, -1.0, -5.0, -0.5, -5.5, -1.5, -7.5, -3.5, -9.5, -5.0, -10.0, -5.5, -8.0],
    [2.5, 3.0, 6.0, 3.3, 2.0, 1.1, 2.5, 3.0, 1.4, 0.5, 1.4, -1.2, -3.0, 0.9, -1.9, -0.9, -9.2, -6.2, -10.5, -6.8, -11.8, -8.0, -12.5, -8.0, -10.5, -5.5, -9.5, -4.0, -8.0, -2.5, -4.5, 1.0, -2.0, 2.0, -5.0, -1.0, -4.5],
]

# ---------------- Sneeuwval / 6 uur (cm) ----------------
SN_CONTROL = [0, 0, 0.2, 1.2, 10.0, 2.5, 0.6, 1.2, 0.6, 0.2, 0.3, 0.3, 0.3, 0.4, 0.2, 0.8, 0.1, 0.1, 0.1,
              0.1, 0.1, 0.1, 0.1, 0.1, 0.1, 0.1, 0.1, 0.1, 0.1, 0.1, 0.1, 0.1, 0.1, 0.1, 0.1, 0.1, 0.1]
SN_OPER = [0, 0, 0.2, 1.5, 10.3, 2.0, 0.8, 1.5, 0.5, 0.3, 0.4, 0.2, 0.2, 0.3, 0.1, 0.2, 0.1, 0.1, 0.1,
           0.1, 0.1, 0.2, 0.3, 0.2, 0.1, 0.1, 0.1]
SN_MEAN = [0, 0, 0.2, 1.2, 7.5, 3.0, 1.0, 1.3, 0.7, 0.5, 0.4, 0.3, 0.3, 0.5, 0.6, 0.7, 0.3, 0.2, 0.2,
           0.2, 0.2, 0.2, 0.2, 0.2, 0.2, 0.3, 0.2, 0.2, 0.3, 0.3, 0.3, 0.3, 0.4, 0.3, 0.3, 0.2, 0.2]
SN_ENS = [
    [0, 0, 0.3, 2.0, 11.7, 3.0, 1.2, 1.8, 0.8, 0.4, 0.3, 0.2, 0.1, 0.3, 5.8, 0.5, 0.2, 0.0, 0.1, 0.0, 0.0, 0.1, 0.0, 0.0, 0.2, 0.1, 0.0, 0.0, 0.3, 0.6, 0.3, 3.3, 0.8, 0.2, 0.4, 0.1, 0.3],
    [0, 0, 0.1, 0.8, 7.0, 4.0, 2.2, 1.0, 0.6, 1.0, 0.5, 0.3, 0.2, 0.8, 1.5, 6.3, 0.4, 0.1, 0.0, 0.3, 0.1, 0.0, 0.2, 0.1, 0.0, 0.8, 0.2, 0.1, 0.0, 1.8, 0.5, 0.2, 4.2, 1.0, 0.3, 0.5, 0.0],
    [0, 0, 0.2, 1.5, 9.5, 2.2, 0.8, 2.0, 1.2, 0.3, 0.7, 0.4, 0.3, 0.2, 0.4, 1.0, 0.8, 0.2, 0.1, 0.0, 0.2, 0.3, 0.1, 0.0, 2.7, 0.6, 0.3, 0.2, 1.5, 0.4, 0.1, 0.8, 2.0, 0.3, 3.1, 0.6, 0.2],
    [0, 0, 0.2, 1.8, 8.5, 5.0, 1.5, 0.6, 0.4, 0.2, 0.2, 0.5, 0.1, 0.1, 0.2, 4.0, 0.2, 0.0, 0.3, 0.1, 0.0, 0.0, 0.1, 0.4, 0.1, 2.4, 0.1, 0.5, 0.2, 0.1, 2.6, 0.3, 0.1, 1.6, 0.2, 2.4, 0.5],
    [0, 0, 0.1, 1.0, 6.0, 3.5, 1.0, 1.5, 0.9, 0.6, 0.3, 0.2, 0.4, 0.5, 0.3, 0.2, 0.1, 0.1, 0.0, 0.2, 0.0, 0.1, 0.0, 0.0, 0.0, 0.2, 0.0, 0.1, 0.3, 0.0, 0.2, 0.1, 0.3, 0.0, 0.5, 0.1, 0.2],
    [0, 0, 0.3, 2.3, 10.8, 1.8, 0.5, 1.2, 0.5, 0.8, 0.4, 0.1, 0.2, 0.3, 2.5, 0.6, 0.1, 0.0, 0.2, 0.0, 0.3, 0.0, 0.0, 0.2, 0.8, 0.3, 1.8, 0.2, 0.7, 0.3, 0.5, 3.4, 0.4, 0.2, 0.6, 0.8, 1.0],
    [0, 0, 0.2, 1.3, 7.8, 4.5, 1.8, 0.9, 0.7, 0.4, 0.6, 0.3, 0.2, 0.6, 0.8, 2.2, 0.3, 0.1, 0.0, 0.1, 0.0, 0.2, 0.0, 0.1, 0.3, 0.1, 0.4, 1.2, 0.4, 0.2, 1.0, 0.6, 0.5, 0.3, 1.8, 0.3, 0.1],
    [0, 0, 0.1, 0.6, 6.5, 2.8, 1.3, 0.7, 0.3, 0.2, 0.1, 0.2, 0.1, 0.2, 0.1, 0.4, 0.1, 0.0, 0.0, 0.0, 0.0, 0.0, 0.0, 0.0, 0.1, 0.0, 0.1, 0.0, 0.0, 0.1, 0.2, 0.0, 1.2, 0.1, 0.0, 0.2, 0.1],
    [0, 0, 0.2, 1.6, 9.0, 3.8, 1.6, 1.4, 0.6, 0.5, 0.4, 0.3, 0.2, 0.4, 3.5, 1.5, 0.2, 0.1, 0.0, 0.1, 0.1, 0.0, 0.1, 0.2, 1.2, 0.3, 0.2, 0.6, 0.3, 1.2, 0.4, 2.2, 0.6, 0.8, 0.3, 1.4, 0.2],
    [0, 0, 0.1, 1.1, 7.2, 3.2, 1.1, 1.1, 0.9, 0.3, 0.5, 0.2, 0.3, 0.5, 0.5, 2.8, 0.5, 0.1, 0.1, 0.0, 0.2, 0.1, 0.0, 0.1, 0.4, 1.5, 0.5, 0.1, 0.8, 0.2, 1.4, 0.5, 0.2, 2.4, 0.8, 0.2, 0.4],
    [0, 0, 0.3, 2.1, 10.2, 2.6, 0.9, 1.6, 0.7, 0.6, 0.3, 0.4, 0.2, 0.2, 1.2, 0.6, 0.2, 0.0, 0.2, 0.1, 0.0, 0.3, 0.1, 0.0, 0.3, 0.1, 0.8, 0.3, 0.1, 0.6, 1.8, 1.0, 2.6, 0.4, 1.1, 0.5, 0.8],
    [0, 0, 0.2, 1.4, 8.2, 4.2, 1.4, 0.8, 0.5, 0.4, 0.2, 0.2, 0.1, 0.7, 2.0, 3.2, 0.3, 0.1, 0.1, 0.2, 0.1, 0.1, 0.0, 0.0, 0.6, 0.2, 0.1, 0.8, 1.3, 0.5, 0.2, 0.4, 1.5, 0.3, 0.2, 0.7, 0.3],
]

W, H = 372, 147
FONT = "Liberation Sans"
GREEN = "#7cb84a"
BLUE = "#0000ff"
RED = "#ff0000"
BROWN = "#8b2a0e"
GRID = "#5a5a5a"
MAGENTA = "#d24ad2"
FRAME_BLUE = "#1c1cf0"


def long_df(series_list, prefix):
    rows = []
    for i, vals in enumerate(series_list):
        for h, v in zip(HOURS, vals):
            rows.append({"hour": h, "value": v, "member": f"{prefix}{i}"})
    return pd.DataFrame(rows)


def panel(label, ens, control, oper, mean, ydom, yticks, yminor, ytitle, grids, magenta, thick_oper):
    xs = alt.Scale(domain=[0, 360], nice=False, zero=False)
    ys = alt.Scale(domain=ydom, nice=False, zero=False)
    xaxis = alt.Axis(values=X_TICKS, labelExpr="datum.value % 24 == 0 ? '00' : '12'",
                     labelFontSize=7, labelFont=FONT, labelFontWeight="bold", labelColor="#000",
                     tickSize=3, tickColor="#000", labelPadding=1, grid=False, domain=False,
                     title=None, labelOverlap=False, labelFlush=False)
    yleft = alt.Axis(values=yticks, labelFontSize=7, labelFont=FONT, labelColor="#000",
                     tickSize=6, tickColor="#000", labelPadding=2, grid=False, domain=False,
                     title=ytitle, titleFont=FONT, titleFontSize=9, titleFontWeight="bold",
                     titleX=-22, titleY=H / 2, titleAngle=-90, titleAlign="center",
                     titleBaseline="alphabetic", orient="left")
    yright = alt.Axis(values=yticks, labelFontSize=7, labelFont=FONT, labelColor="#000",
                      tickSize=6, tickColor="#000", labelPadding=3, grid=False, domain=False,
                      title=None, orient="right")

    base_x = alt.X("hour:Q", scale=xs, axis=xaxis)
    one = pd.DataFrame({"k": [0]})

    ens_layer = alt.Chart(long_df(ens, "e")).mark_line(
        color=GREEN, strokeWidth=1, opacity=0.75).encode(
        x=base_x, y=alt.Y("value:Q", scale=ys, axis=yleft), detail="member:N")

    oper_df = pd.DataFrame({"hour": HOURS[:len(oper)], "value": oper})
    oper_layer = alt.Chart(oper_df).mark_line(color=RED, strokeWidth=2).encode(
        x=base_x, y=alt.Y("value:Q", scale=ys, axis=None))

    ctrl_df = pd.DataFrame({"hour": HOURS, "value": control})
    ctrl_layer = alt.Chart(ctrl_df).mark_line(color=BLUE, strokeWidth=2, strokeDash=[5, 3]).encode(
        x=base_x, y=alt.Y("value:Q", scale=ys, axis=None))

    mean_df = pd.DataFrame({"hour": HOURS, "value": mean})
    mean_layer = alt.Chart(mean_df).mark_line(color=BROWN, strokeWidth=2, strokeDash=[2, 2]).encode(
        x=base_x, y=alt.Y("value:Q", scale=ys, axis=None))

    minor_df = pd.DataFrame({"v": yminor})
    minor_left = alt.Chart(minor_df).mark_rule(color="#888", strokeWidth=1).encode(
        y=alt.Y("v:Q", scale=ys, axis=yright), x=alt.value(-3), x2=alt.value(0))
    minor_right = alt.Chart(minor_df).mark_rule(color="#888", strokeWidth=1).encode(
        y=alt.Y("v:Q", scale=ys, axis=None), x=alt.value(W), x2=alt.value(W + 3))

    layers = [ens_layer]
    if grids:
        layers.append(alt.Chart(pd.DataFrame({"v": grids})).mark_rule(color=GRID, strokeWidth=1).encode(
            y=alt.Y("v:Q", scale=ys, axis=None)))
    if magenta:
        layers.append(alt.Chart(pd.DataFrame({"v": magenta})).mark_rule(color=MAGENTA, strokeWidth=1.2).encode(
            y=alt.Y("v:Q", scale=ys, axis=None)))
    layers += [oper_layer, ctrl_layer, mean_layer, minor_left, minor_right]

    day_df = pd.DataFrame({"hour": DAY_HOURS, "day": DAYS})
    layers.append(alt.Chart(day_df).mark_text(font=FONT, fontSize=9, fontWeight="bold", color="#000",
                                              baseline="middle").encode(
        x=base_x, y=alt.value(H + 17), text="day:N"))

    def txt(t, x, y, size, weight="normal", align="left", color="#000"):
        return alt.Chart(one).mark_text(text=t, font=FONT, fontSize=size, fontWeight=weight,
                                        align=align, baseline="middle", color=color).encode(
            x=alt.value(x), y=alt.value(y))

    def seg(y, color, width, dash):
        m = alt.Chart(one).mark_rule(color=color, strokeWidth=width, strokeDash=dash) if dash else \
            alt.Chart(one).mark_rule(color=color, strokeWidth=width)
        return m.encode(x=alt.value(4), x2=alt.value(16), y=alt.value(y))

    oper_leg = seg(16.8, "#ff6060", 3, None) if thick_oper else seg(16.8, RED, 1.5, None)
    layers += [
        txt(TITLE_A, 63, -16, 11.3, "bold"),
        txt(TITLE_B, 222, -16, 11.3, "bold"),
        txt(LOCATION, W - 50, 7, 9.6, "bold", "center"),
        txt(label, W - 50, 17, 9.6, "bold", "center"),
        seg(9.7, BLUE, 1.5, [2, 2]), txt("Control", 36, 10, 8, align="center"),
        oper_leg, txt("Oper", 36, 17.3, 8, align="center"),
        seg(24.7, BROWN, 1.5, [2, 2]), txt("Ens mn", 36, 25, 8, align="center"),
        txt(SOURCE, 394, H + 25.5, 7, "bold", "right", "#0000e0"),
        alt.Chart(one).mark_rect(fillOpacity=0, stroke=FRAME_BLUE, strokeWidth=1).encode(
            x=alt.value(-31), x2=alt.value(396), y=alt.value(-27), y2=alt.value(176)),
    ]
    return alt.layer(*layers).resolve_axis(y="independent").properties(width=W, height=H)


p1 = panel("Neerslag/6 uur", PR_ENS, PR_CONTROL, PR_OPER, PR_MEAN, [0, 20], [0, 5, 10, 15, 20],
           [1, 2, 3, 4, 6, 7, 8, 9, 11, 12, 13, 14, 16, 17, 18, 19], "mm", [15], [], False)
p2 = panel("Accum Neerslag", AC_ENS, AC_CONTROL, AC_OPER, AC_MEAN, [0, 110], [20, 40, 60, 80, 100],
           [10, 30, 50, 70, 90, 110], "mm", [20, 40, 60, 80, 100], [], False)
p3 = panel("10m wind", WI_ENS, WI_CONTROL, WI_OPER, WI_MEAN, [0, 20], [0, 5, 10, 15, 20],
           [1, 2, 3, 4, 6, 7, 8, 9, 11, 12, 13, 14, 16, 17, 18, 19], "m/s", [10.8, 13.9, 17.2], [], False)
p4 = panel("Windstoten", GU_ENS, GU_CONTROL, GU_OPER, GU_MEAN, [0, 40], [0, 5, 10, 15, 20, 25, 30, 35, 40],
           [1, 2, 3, 4, 6, 7, 8, 9, 11, 12, 13, 14, 16, 17, 18, 19, 21, 22, 23, 24, 26, 27, 28, 29,
            31, 32, 33, 34, 36, 37, 38, 39], "m/s", [20.8, 24.5], [28.5], True)
p5 = panel("T2m", T_ENS, T_CONTROL, T_OPER, T_MEAN, [-25, 15], [-25, -20, -15, -10, -5, 0, 5, 10, 15],
           [-24, -23, -22, -21, -19, -18, -17, -16, -14, -13, -12, -11, -9, -8, -7, -6, -4, -3, -2, -1,
            1, 2, 3, 4, 6, 7, 8, 9, 11, 12, 13, 14], "(Celsius)", [0], [], True)
p6 = panel("sneeuwval/6 uur", SN_ENS, SN_CONTROL, SN_OPER, SN_MEAN, [0, 13], [0, 2, 4, 6, 8, 10, 12],
           [1, 3, 5, 7, 9, 11, 13], "cm", [], [5], True)

chart = alt.vconcat(
    alt.hconcat(p1, p2, spacing=1),
    alt.hconcat(p3, p4, spacing=1),
    alt.hconcat(p5, p6, spacing=1),
    spacing=1,
).properties(padding={"left": 0, "top": 0, "right": 0, "bottom": 0}
).configure_view(stroke="#000", strokeWidth=1)

chart.save("out.html", embed_options={"renderer": "svg", "actions": False})
